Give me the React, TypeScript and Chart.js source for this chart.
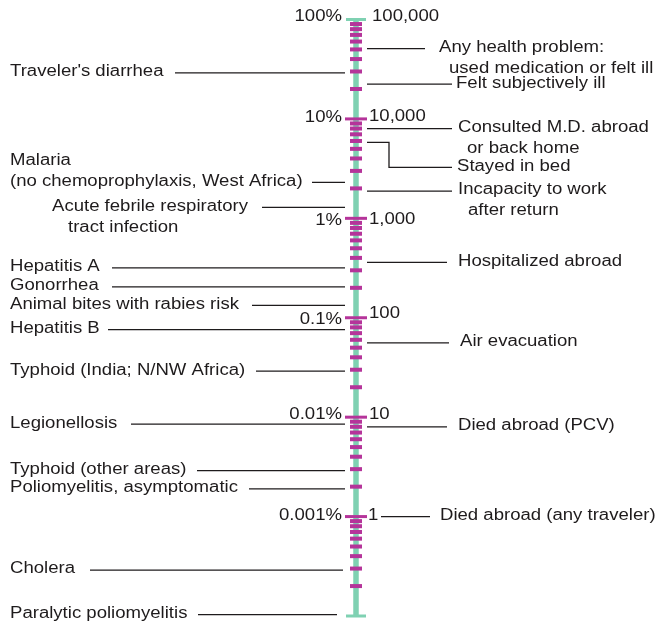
import React, { useEffect, useRef } from "react";
import { Chart, registerables } from "chart.js";

Chart.register(...registerables);

// ---------- data ----------
const decadeValues = [100000, 10000, 1000, 100, 10, 1, 0.1];
const percentLabels = ["100%", "10%", "1%", "0.1%", "0.01%", "0.001%", ""];
const countLabels = ["100,000", "10,000", "1,000", "100", "10", "1", ""];
const minorMultipliers = [2, 3, 4, 5, 6, 7, 8, 9];

const leftLabels: string[][] = [
  ["Traveler's diarrhea"],
  ["Malaria", "(no chemoprophylaxis, West Africa)"],
  ["Acute febrile respiratory", "tract infection"],
  ["Hepatitis A"],
  ["Gonorrhea"],
  ["Animal bites with rabies risk"],
  ["Hepatitis B"],
  ["Typhoid (India; N/NW Africa)"],
  ["Legionellosis"],
  ["Typhoid (other areas)"],
  ["Poliomyelitis, asymptomatic"],
  ["Cholera"],
  ["Paralytic poliomyelitis"],
];
const leftValues = [29000, 2300, 1290, 317, 204, 133, 76, 29, 8.5, 2.9, 1.9, 0.29, 0.103];

const rightLabels: string[][] = [
  ["Any health problem:", "used medication or felt ill"],
  ["Felt subjectively ill"],
  ["Consulted M.D. abroad", "or back home"],
  ["Stayed in bed"],
  ["Incapacity to work", "after return"],
  ["Hospitalized abroad"],
  ["Air evacuation"],
  ["Died abroad (PCV)"],
  ["Died abroad (any traveler)"],
];
const rightValues = [51000, 22400, 8000, 5800, 1880, 360, 56, 8, 1];

// ---------- layout / style ----------
const W = 655;
const H = 622;
const AXIS_X = 356;
const FONT_PX = 16;
const SX = 1.16;
const LINE_GAP = 21;
const TEAL = "#7fd1b2";
const PINK = "#b5349a";
const INK = "#1e1b1c";

const leftTextX = [[10], [10, 10], [52, 68], [10], [10], [10], [10], [10], [10], [10], [10], [10], [10]];
const leftAnchor = [0, 1, 0, 0, 0, 0, 0, 0, 0, 0, 0, 0, 0];
const leftLineStart = [175, 312, 262, 112, 112, 252, 108, 256, 131, 197, 249, 90, 198];
const leftLineEnd = [345, 345, 345, 345, 345, 345, 345, 345, 345, 345, 345, 343, 337];

const rightTextX = [[439, 449], [456], [458, 467], [457], [458, 468], [458], [460], [458], [440]];
const rightLineStart = [367, 367, 367, 367, 367, 367, 367, 367, 381];
const rightLineEnd = [425, 452, 452, 452, 452, 447, 449, 447, 430];
const elbowIndex = 3;
const elbowX = 389;
const elbowDrop = 25;

const percentDy = [-3, -1, 2, 2, -3, -1, 0];
const countDy = [-3, -2, 1, -4.5, -3, -1, 0];
const countX = [372, 369, 369, 369, 369, 368, 0];

function drawText(ctx: CanvasRenderingContext2D, s: string, x: number, y: number, align: CanvasTextAlign) {
  ctx.save();
  ctx.translate(x, y);
  ctx.scale(SX, 1);
  ctx.textAlign = align;
  ctx.textBaseline = "middle";
  ctx.fillText(s, 0, 0);
  ctx.restore();
}

function hLine(ctx: CanvasRenderingContext2D, x1: number, x2: number, y: number) {
  ctx.beginPath();
  ctx.moveTo(x1, y);
  ctx.lineTo(x2, y);
  ctx.stroke();
}

const drawPlugin = {
  id: "riskScale",
  afterDraw(chart: any) {
    const ctx: CanvasRenderingContext2D = chart.ctx;
    const ys = chart.scales.y;
    const Y = (v: number) => ys.getPixelForValue(v);
    const top = Y(decadeValues[0]);
    const bottom = Y(decadeValues[decadeValues.length - 1]);

    ctx.save();
    // axis
    ctx.strokeStyle = TEAL;
    ctx.lineWidth = 5.5;
    ctx.beginPath();
    ctx.moveTo(AXIS_X, top);
    ctx.lineTo(AXIS_X, bottom);
    ctx.stroke();

    // minor ticks
    ctx.fillStyle = PINK;
    for (let i = 1; i < decadeValues.length; i++) {
      const d = decadeValues[i];
      for (const k of minorMultipliers) {
        const y = Y(d * k);
        ctx.fillRect(AXIS_X - 6, y - 2, 12, 4);
      }
    }
    // major ticks
    for (let i = 1; i < decadeValues.length - 1; i++) {
      const y = Y(decadeValues[i]);
      ctx.fillRect(AXIS_X - 11, y - 1.5, 22, 3);
    }
    // caps
    ctx.strokeStyle = TEAL;
    ctx.lineWidth = 3;
    hLine(ctx, AXIS_X - 10, AXIS_X + 10, top);
    hLine(ctx, AXIS_X - 10, AXIS_X + 10, bottom);

    // decade labels
    ctx.fillStyle = INK;
    ctx.font = `${FONT_PX}px "Liberation Sans", Arial, sans-serif`;
    decadeValues.forEach((v, i) => {
      const y = Y(v);
      if (percentLabels[i]) drawText(ctx, percentLabels[i], 342, y + percentDy[i], "right");
      if (countLabels[i]) drawText(ctx, countLabels[i], countX[i], y + countDy[i], "left");
    });

    // connectors
    ctx.strokeStyle = INK;
    ctx.lineWidth = 1.3;
    leftLabels.forEach((lines, i) => {
      const y = Y(leftValues[i]);
      hLine(ctx, leftLineStart[i], leftLineEnd[i], y);
      lines.forEach((s, j) => {
        drawText(ctx, s, leftTextX[i][j], y - 1 + (j - leftAnchor[i]) * LINE_GAP, "left");
      });
    });
    rightLabels.forEach((lines, i) => {
      const y = Y(rightValues[i]);
      let ty = y;
      if (i === elbowIndex) {
        ctx.beginPath();
        ctx.moveTo(rightLineStart[i], y);
        ctx.lineTo(elbowX, y);
        ctx.lineTo(elbowX, y + elbowDrop);
        ctx.lineTo(rightLineEnd[i], y + elbowDrop);
        ctx.stroke();
        ty = y + elbowDrop;
      } else {
        hLine(ctx, rightLineStart[i], rightLineEnd[i], y);
      }
      lines.forEach((s, j) => {
        drawText(ctx, s, rightTextX[i][j], ty - 1 + j * LINE_GAP, "left");
      });
    });
    ctx.restore();
  },
};

export default function App() {
  const ref = useRef<HTMLCanvasElement | null>(null);
  useEffect(() => {
    if (!ref.current) return;
    const chart = new Chart(ref.current, {
      type: "scatter",
      data: { datasets: [] },
      options: {
        animation: false,
        responsive: false,
        maintainAspectRatio: false,
        events: [],
        layout: { padding: { top: 19.5, bottom: 6, left: 0, right: 0 } },
        plugins: { legend: { display: false }, tooltip: { enabled: false } },
        scales: {
          x: { type: "linear", min: 0, max: W, display: false },
          y: { type: "logarithmic", min: 0.1, max: 100000, display: false },
        },
      },
      plugins: [drawPlugin],
    });
    return () => chart.destroy();
  }, []);
  return (
    <div style={{ position: "fixed", left: 0, top: 0, width: W, height: H, background: "#fff" }}>
      <canvas ref={ref} width={W} height={H} style={{ display: "block", width: W, height: H }} />
    </div>
  );
}
